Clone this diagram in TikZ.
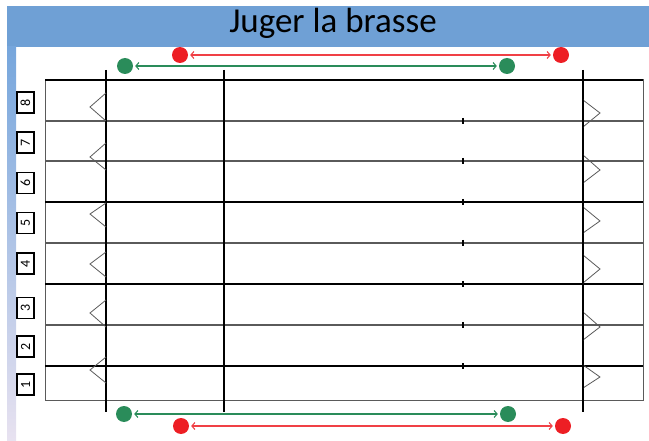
\documentclass[tikz,border=0pt]{standalone}
\usepackage{fontspec}
\setmainfont{Carlito}
\usetikzlibrary{arrows.meta}
\definecolor{bandblue}{RGB}{111,160,213}
\definecolor{stripblue}{RGB}{118,166,220}
\definecolor{striplav}{RGB}{232,226,240}
\definecolor{dotred}{RGB}{237,30,36}
\definecolor{dotgreen}{RGB}{42,140,90}
\definecolor{lanegray}{RGB}{90,90,90}

\begin{document}
\begin{tikzpicture}[x=1pt,y=-1pt]
            \tikzstyle{reddot} = [circle, fill=dotred, inner sep=0pt, minimum size=16pt]
            \tikzstyle{greendot} = [circle, fill=dotgreen, inner sep=0pt, minimum size=16pt]
            \tikzstyle{redarrow} = [line width=1.1pt, draw=dotred!85!white, {Straight Barb[length=3pt,width=7pt]}-{Straight Barb[length=3pt,width=7pt]}, shorten <=2pt, shorten >=2pt]
            \tikzstyle{greenarrow} = [line width=1.1pt, draw=dotgreen, {Straight Barb[length=3pt,width=7pt]}-{Straight Barb[length=3pt,width=7pt]}, shorten <=2pt, shorten >=2pt]
            \tikzstyle{lane} = [line width=1.2pt, lanegray]
            \tikzstyle{thickline} = [line width=1.8pt, black]
            \tikzstyle{flag} = [line width=0.8pt, lanegray]
            \tikzstyle{lanebox} = [draw, line width=1.1pt, rotate=90, minimum width=21pt, minimum height=17pt, inner sep=0pt, font=\fontsize{14}{14}\selectfont]

            \useasboundingbox (0,0) rectangle (649,441);
            \fill[bandblue] (7,6) rectangle (649,47);
            \shade[top color=stripblue, bottom color=striplav] (7,47) rectangle (16,441);
            \node[anchor=base, font=\fontsize{35}{40}\selectfont] (title) at (333,33) {Juger la brasse};

            \draw[lane, line width=1pt] (45,80) rectangle (643,400);
            \draw[thickline] (45,80) -- (643,80);
            \foreach \y in {121,161,243,325}
                \draw[lane] (45,\y) -- (643,\y);
            \foreach \y in {202,284,366}
                \draw[thickline] (45,\y) -- (643,\y);
            \foreach \y in {121,161,202,243,284,325,366}
                \draw[line width=1.2pt] (463,\y-3) -- (463,\y+3);
            \foreach \x in {106,224,583}
                \draw[thickline] (\x,70) -- (\x,412);

            \foreach \t/\a/\b in {93/107/121, 143/157/170, 203/214/227, 252/264/277, 300/313/327, 357/370/383}
                \draw[flag] (106,\t) -- (90,\a) -- (106,\b);
            \foreach \t/\a/\b in {100/113/127, 155/170/183, 207/221/233, 255/269/283, 312/327/340, 365/377/388}
            {
                \draw[flag] (583,\t) -- (600,\a) -- (583,\b);
                \draw[line width=2.6pt] (583,\t) -- (583,\b);
            }

            \foreach \n/\y in {8/102.5, 7/142.5, 6/183, 5/223, 4/263.5, 3/308, 2/346.5, 1/384.5}
                \node[lanebox] (lane\n) at (25.5,\y) {\n};

            \node[reddot] (redTL) at (180,55) {};
            \node[reddot] (redTR) at (561,55) {};
            \node[greendot] (greenTL) at (125,66) {};
            \node[greendot] (greenTR) at (507,66) {};
            \node[greendot] (greenBL) at (124,414) {};
            \node[greendot] (greenBR) at (508,414) {};
            \node[reddot] (redBL) at (181,426) {};
            \node[reddot] (redBR) at (563,426) {};

            \draw[redarrow] (redTL) -- (redTR);
            \draw[greenarrow] (greenTL) -- (greenTR);
            \draw[greenarrow] (greenBL) -- (greenBR);
            \draw[redarrow] (redBL) -- (redBR);
        \end{tikzpicture}
\end{document}
